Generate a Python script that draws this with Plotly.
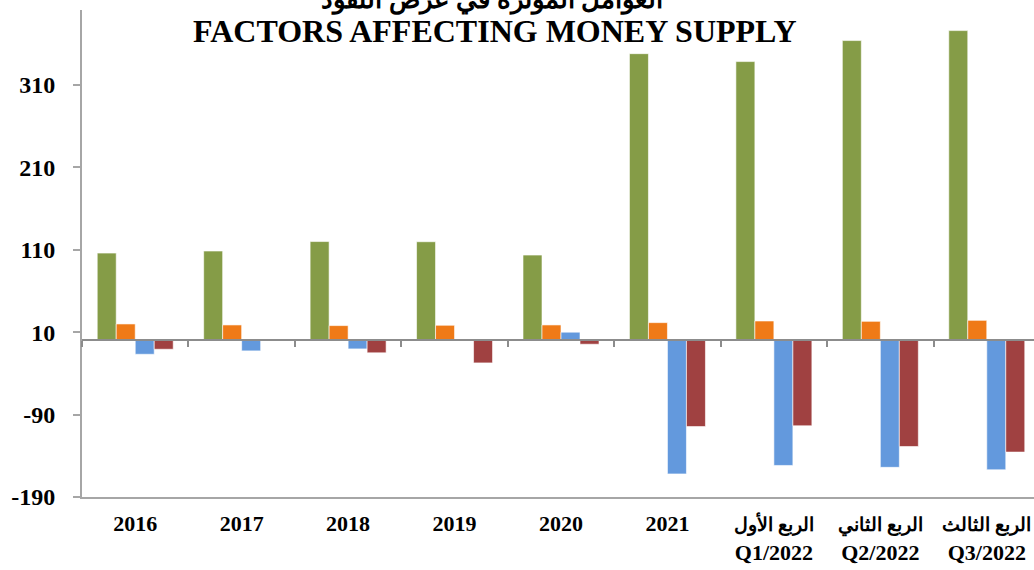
import plotly.graph_objects as go

AR = '<span style="font-size:19px"><b>{}</b></span>'
categories = ["2016", "2017", "2018", "2019", "2020", "2021",
              AR.format("الربع الأول") + "<br>Q1/2022",
              AR.format("الربع الثاني") + "<br>Q2/2022",
              AR.format("الربع الثالث") + "<br>Q3/2022"]
series_green = [106, 108.5, 120, 119.8, 103.6, 348, 338.4, 363.9, 376]
series_orange = [20, 18.8, 18, 18.4, 18.8, 21.6, 23.6, 23.2, 24.4]
series_blue = [-16.8, -12.7, -10.3, 0, 10, -162, -151.7, -154, -157]
series_red = [-10.7, 0, -15, -27.3, -4.6, -104.5, -103.6, -128.7, -135.5]
y_ticks = [-190, -90, 10, 110, 210, 310]
y_tick_labels = ["-190", "-90", "10", "110", "210", "310"]

colors = ["#859C47", "#EF7A17", "#6399DD", "#A04141"]
FONT = "Liberation Serif"
y_range = [-190, 401]

fig = go.Figure()
for vals, col in zip([series_green, series_orange, series_blue, series_red], colors):
    fig.add_trace(go.Bar(x=list(range(len(categories))), y=vals,
                         marker=dict(color=col, line=dict(color="rgba(255,255,255,0.6)", width=1)),
                         showlegend=False))

n = len(categories)
x_range = [-0.5, n - 0.5 - 6 / 106.5]
zero_pos = (0 - y_range[0]) / (y_range[1] - y_range[0])

fig.update_layout(
    width=1034, height=570,
    margin=dict(l=82, r=0, t=10, b=73, autoexpand=False),
    paper_bgcolor="white", plot_bgcolor="white",
    barmode="group", bargap=0.286, bargroupgap=0,
    font=dict(family=FONT, color="black"),
    xaxis=dict(range=x_range, tickmode="array", tickvals=list(range(n)), ticktext=categories,
               showline=True, linecolor="#A6A6A6", linewidth=2, ticks="", automargin=False,
               ticklabeloverflow="allow", ticklabelstandoff=6,
               tickfont=dict(family=FONT, size=22, weight="bold"), showgrid=False, zeroline=False),
    xaxis2=dict(overlaying="x", anchor="free", position=zero_pos, range=x_range, automargin=False,
                tickmode="array", tickvals=[i - 0.5 for i in range(n + 1)],
                showticklabels=False, ticks="outside", ticklen=6, tickcolor="#8C8C8C", tickwidth=2,
                showline=True, linecolor="#8C8C8C", linewidth=2, showgrid=False, zeroline=False),
    yaxis=dict(range=y_range, tickmode="array", tickvals=y_ticks, ticktext=y_tick_labels,
               showline=True, linecolor="#A6A6A6", linewidth=2, ticks="outside", ticklen=7,
               tickcolor="#A6A6A6", tickwidth=2, showgrid=False, zeroline=False, automargin=False,
               tickfont=dict(family=FONT, size=24, weight="bold"), ticklabelstandoff=13),
)
fig.add_trace(go.Scatter(x=[0], y=[0], xaxis="x2", mode="markers",
                         marker=dict(opacity=0), showlegend=False, hoverinfo="skip"))

fig.add_annotation(text="<b>FACTORS AFFECTING MONEY SUPPLY</b>", xref="paper", yref="paper",
                   x=(495 - 82) / 952, y=1.0, yanchor="top", yshift=-1, showarrow=False,
                   font=dict(family=FONT, size=32, color="black"))
fig.add_annotation(text="<b>العوامل المؤثرة في عرض النقود</b>", xref="paper", yref="paper",
                   x=(492 - 82) / 952, y=1.0, yanchor="bottom", yshift=-7, showarrow=False,
                   font=dict(family=FONT, size=26, color="black"))

fig.write_html("out.html", config={"displayModeBar": False},
               post_script="document.body.style.margin='0';document.body.style.overflow='hidden';")
